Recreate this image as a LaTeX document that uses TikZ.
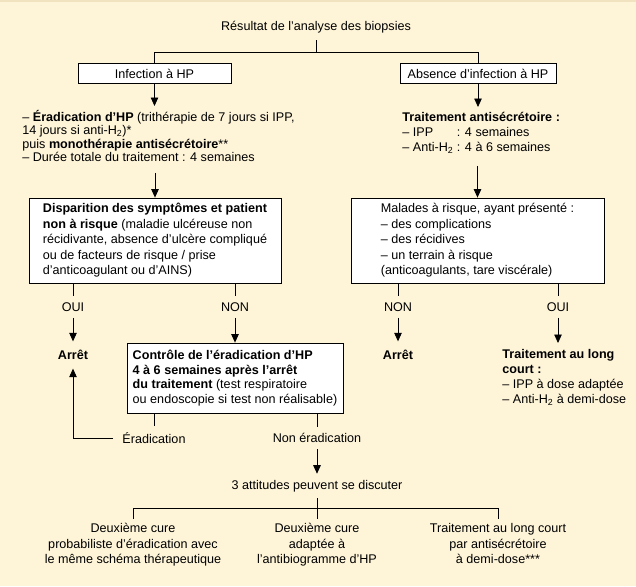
\documentclass[tikz,border=0pt]{standalone}
\usepackage{fontspec}
\setmainfont{Liberation Sans}
\usetikzlibrary{arrows.meta}
\definecolor{fond}{HTML}{FEF4D8}
\definecolor{liseret}{HTML}{F1E3C0}
\def\taille{\fontsize{12.6}{15}\selectfont}
\def\serre{\fontsize{12.6}{13.3}\selectfont}
\tikzset{
  cadre/.style={draw, fill=white, line width=0.8pt, inner sep=0pt, align=left},
  etiq/.style={inner xsep=9pt, inner ysep=6pt},
  bloc/.style={anchor=north west, inner sep=0pt, align=left},
  fleche/.style={-{Triangle[length=8.5pt,width=7.5pt]}},
}

\begin{document}
\begin{tikzpicture}[x=1pt, y=-1pt, font=\taille, line width=0.8pt]
			%%%%% START %%%%%
			
			\fill[fond] (0, 0) rectangle (636, 586);
			\fill[liseret] (0, 0) rectangle (636, 2);
			\useasboundingbox (0, 0) rectangle (636, 586);
			
			\node[inner ysep=7pt] (res) at (316, 27) {Résultat de l’analyse des biopsies};
			\coordinate (br1) at (316, 52);
			\node[cadre, align=center, minimum width=153pt, minimum height=20pt] (inf) at (154.5, 73.5) {Infection à HP};
			\node[cadre, align=center, minimum width=156pt, minimum height=20pt] (absn) at (478, 73.5) {Absence d’infection à HP};
			\draw (res) -- (br1);
			\draw (inf.north) -- (inf.north |- br1) -- (absn.north |- br1) -- (absn.north);
			
			\node[bloc, font=\serre] (eradic) at (22, 110) {– \textbf{Éradication d’HP} (trithérapie de 7 jours si IPP,\\14 jours si anti-H\textsubscript{2})*\\puis \textbf{monothérapie antisécrétoire}**\\– Durée totale du traitement : 4 semaines};
			\node[bloc] (antisec) at (402, 111) {\begin{tabular}{@{}l@{ }l@{}}\multicolumn{2}{@{}l@{}}{\textbf{Traitement antisécrétoire :}}\\– IPP & : 4 semaines\\– Anti-H\textsubscript{2} & : 4 à 6 semaines\end{tabular}};
			\draw[fleche, shorten >=4pt] (inf) -- (inf |- eradic.north);
			\draw[fleche, shorten >=4pt] (absn) -- (absn |- antisec.north);
			
			\node[cadre, font=\fontsize{12.6}{15.5}\selectfont, minimum width=252pt, minimum height=85pt] (disp) at (155, 240.5) {\textbf{Disparition des symptômes et patient}\\\textbf{non à risque} (maladie ulcéreuse non\\récidivante, absence d’ulcère compliqué\\ou de facteurs de risque / prise\\d’anticoagulant ou d’AINS)};
			\node[cadre, font=\fontsize{12.6}{15.5}\selectfont, minimum width=253pt, minimum height=85pt] (dispR) at (477.5, 240.5) {Malades à risque, ayant présenté :\\– des complications\\– des récidives\\– un terrain à risque\\(anticoagulants, tare viscérale)};
			\draw[fleche, shorten <=11pt] (disp.north |- eradic.south) -- (disp.north);
			\draw[fleche, shorten <=9pt] (dispR.north |- antisec.south) -- (dispR.north);
			
			\node[etiq] (oui1) at (73, 307) {OUI};
			\node[etiq] (non1) at (235, 307) {NON};
			\node[etiq] (non2) at (398, 307) {NON};
			\node[etiq] (oui2) at (558, 307) {OUI};
			\draw (disp.south -| oui1) -- (oui1);
			\draw (disp.south -| non1) -- (non1);
			\draw (dispR.south -| non2) -- (non2);
			\draw (dispR.south -| oui2) -- (oui2);
			
			\node[inner sep=8.5pt, font=\taille\bfseries] (arr1) at (73, 355) {Arrêt};
			\node[inner sep=8.5pt, font=\taille\bfseries] (arr2) at (398, 355) {Arrêt};
			\node[cadre, font=\fontsize{12.6}{14.4}\selectfont, minimum width=216pt, minimum height=70pt] (ctrl) at (235, 378) {\textbf{Contrôle de l’éradication d’HP}\\\textbf{4 à 6 semaines après l’arrêt}\\\textbf{du traitement} (test respiratoire\\ou endoscopie si test non réalisable)};
			\node[bloc] (long) at (502, 349) {\textbf{Traitement au long}\\\textbf{court :}\\– IPP à dose adaptée\\– Anti-H\textsubscript{2} à demi-dose};
			\draw[fleche] (oui1) -- (arr1);
			\draw[fleche] (non1) -- (non1 |- ctrl.north);
			\draw[fleche] (non2) -- (arr2);
			\draw[fleche, shorten >=6pt] (oui2) -- (oui2 |- long.north);
			
			\node[etiq] (era) at (154, 438) {Éradication};
			\node[etiq] (nonera) at (317, 438) {Non éradication};
			\draw (ctrl.south -| era) -- (era);
			\draw (ctrl.south -| nonera) -- (nonera);
			\draw[fleche] (era) -| (arr1);
			
			\node[etiq] (att) at (317, 486) {3 attitudes peuvent se discuter};
			\coordinate (br2) at (317, 508);
			\draw[fleche] (nonera) -- (att);
			\draw (att) -- (br2);
			
			\node[anchor=north, align=center, inner ysep=4pt, font=\fontsize{12.6}{15.5}\selectfont] (cure1) at (133, 519) {Deuxième cure\\probabiliste d’éradication avec\\le même schéma thérapeutique};
			\node[anchor=north, align=center, inner ysep=4pt, font=\fontsize{12.6}{15.5}\selectfont] (cure2) at (317, 519) {Deuxième cure\\adaptée à\\l’antibiogramme d’HP};
			\node[anchor=north, align=center, inner ysep=4pt, font=\fontsize{12.6}{15.5}\selectfont] (longc) at (498, 519) {Traitement au long court\\par antisécrétoire\\à demi-dose***};
			\draw (cure1.north) -- (cure1.north |- br2) -- (longc.north |- br2) -- (longc.north);
			\draw (br2) -- (cure2.north);
			
			%%%%% END %%%%%
\end{tikzpicture}
\end{document}
